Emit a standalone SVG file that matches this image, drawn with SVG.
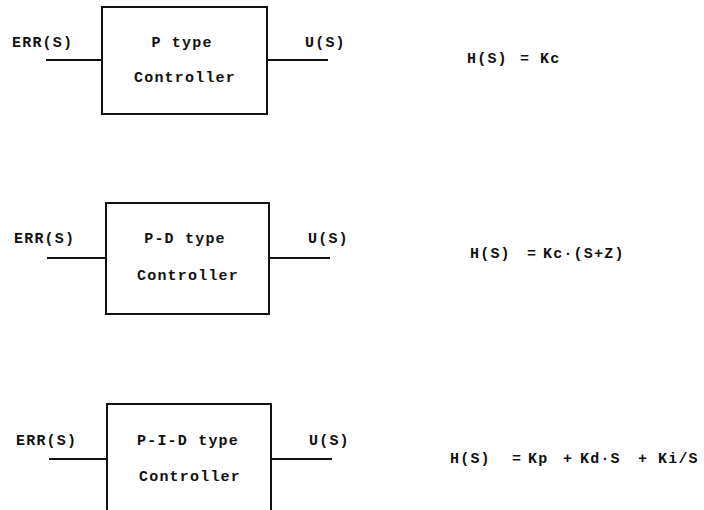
<svg xmlns="http://www.w3.org/2000/svg" width="704" height="510" viewBox="0 0 704 510">
<style>
text{font-family:"Liberation Mono","DejaVu Sans Mono",monospace;font-size:15px;font-weight:bold;letter-spacing:1.2px;fill:#111}
.c{text-anchor:middle}
.box{fill:#fff;stroke:#111;stroke-width:2}
.ln{stroke:#111;stroke-width:2;fill:none}
</style>
<rect width="704" height="510" fill="#fff"/>
<g id="connectors">
<line class="ln" x1="46" y1="60" x2="102" y2="60"/>
<line class="ln" x1="267" y1="60" x2="328" y2="60"/>
<line class="ln" x1="47" y1="258" x2="106" y2="258"/>
<line class="ln" x1="269" y1="258" x2="330" y2="258"/>
<line class="ln" x1="49" y1="459" x2="107" y2="459"/>
<line class="ln" x1="271" y1="459" x2="332" y2="459"/>
</g>
<g id="p-controller">
<rect class="box" x="102" y="7" width="165" height="107"/>
<text class="c" x="182" y="47">P type</text>
<text class="c" x="185" y="82">Controller</text>
</g>
<g id="pd-controller">
<rect class="box" x="106" y="203" width="163" height="111"/>
<text class="c" x="185" y="243">P-D type</text>
<text class="c" x="188" y="280">Controller</text>
</g>
<g id="pid-controller">
<rect class="box" x="107" y="404" width="164" height="112"/>
<text class="c" x="188" y="445">P-I-D type</text>
<text class="c" x="190" y="481">Controller</text>
</g>
<g id="labels">
<text x="12" y="47">ERR(S)</text>
<text x="305" y="47">U(S)</text>
<text x="14" y="243">ERR(S)</text>
<text x="308" y="243">U(S)</text>
<text x="16" y="445">ERR(S)</text>
<text x="309" y="445">U(S)</text>
</g>
<g id="formulas">
<text y="63"><tspan x="467">H(S)</tspan><tspan x="520">=</tspan><tspan x="540">Kc</tspan></text>
<text y="258"><tspan x="470">H(S)</tspan><tspan x="527">=</tspan><tspan x="543">Kc·(S+Z)</tspan></text>
<text y="463"><tspan x="450">H(S)</tspan><tspan x="512">=</tspan><tspan x="528">Kp</tspan><tspan x="563">+</tspan><tspan x="580">Kd·S</tspan><tspan x="638">+</tspan><tspan x="658">Ki/S</tspan></text>
</g>
</svg>
